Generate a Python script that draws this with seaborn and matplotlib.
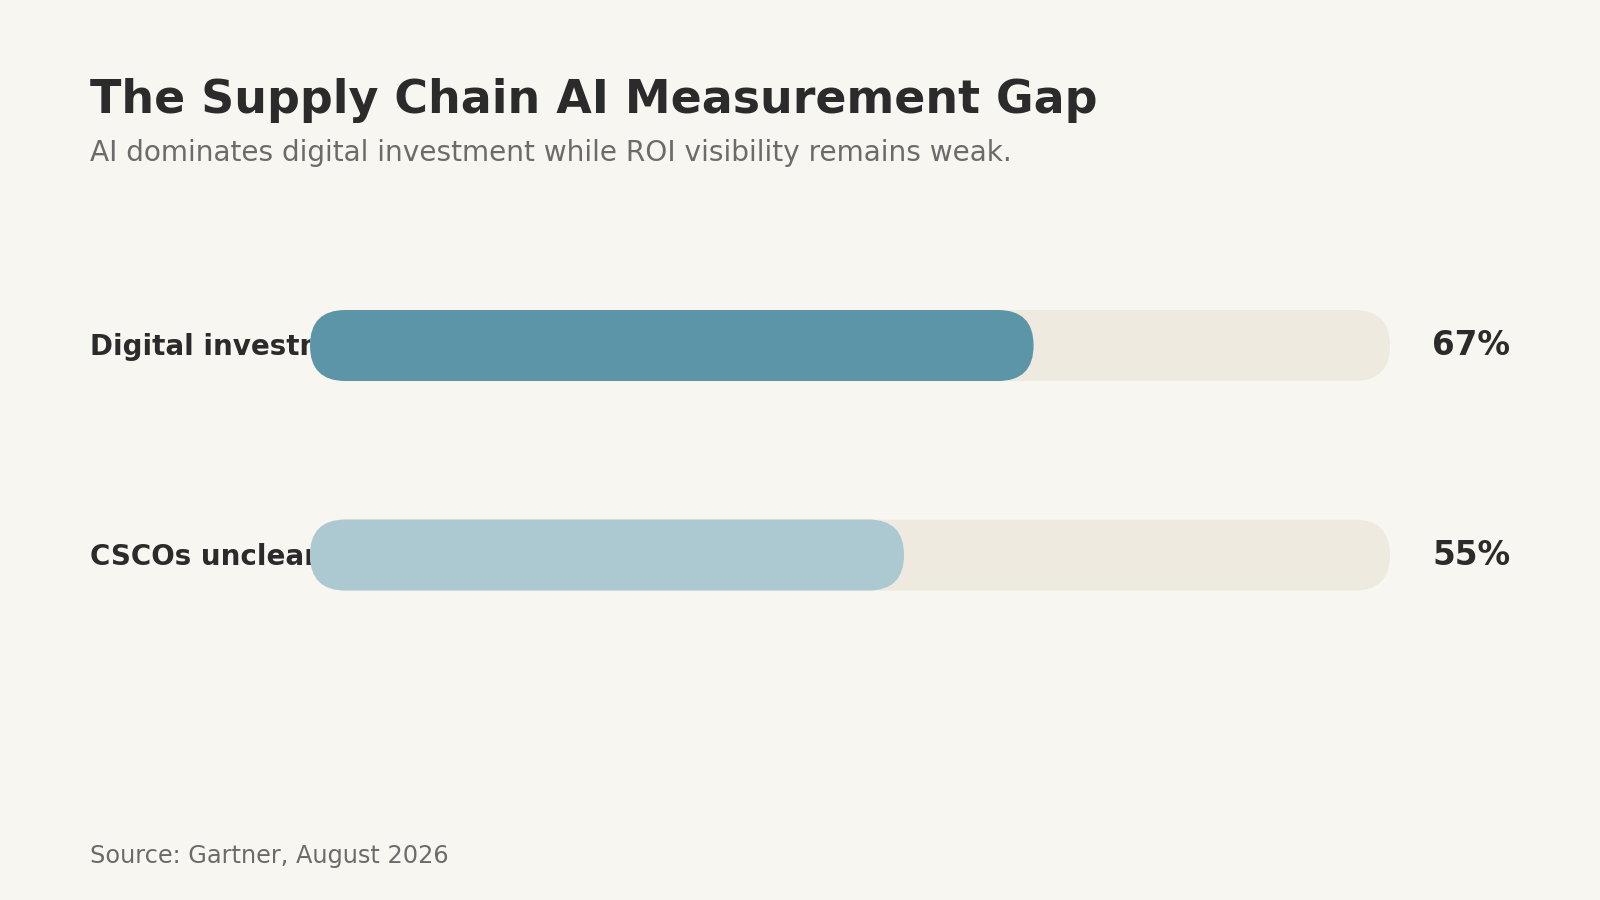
import matplotlib
matplotlib.use("Agg")
import matplotlib.pyplot as plt
import matplotlib.transforms as mtransforms
from matplotlib.patches import FancyBboxPatch
import pandas as pd
import seaborn as sns

# Chart data
labels = ["Digital investment going to AI", "CSCOs unclear on AI ROI"]
values = [67, 55]
value_labels = ["67%", "55%"]
track_max = 100
bar_colors = ["#5c95a8", "#acc9d1"]

BG = "#f8f6f0"
TRACK = "#eeeae0"
DARK = "#2b2b2b"
GREY = "#6b6b6b"

sns.set_theme(style="white")
plt.rcParams['font.family'] = ['DejaVu Sans']

fig = plt.figure(figsize=(16, 9), dpi=100, facecolor=BG)
ax = fig.add_axes([0.19375, 0.2669, 0.675, 0.4656])
ax.set_facecolor("none")

df = pd.DataFrame({"label": labels, "value": values, "track": [track_max] * len(labels)})

bar_w = 0.339
sns.barplot(data=df, x="track", y="label", color=TRACK, saturation=1,
            width=bar_w, ax=ax, orient="h")
sns.barplot(data=df, x="value", y="label", hue="label", palette=bar_colors, saturation=1,
            legend=False, width=bar_w, ax=ax, orient="h")

ax.set_xlim(0, track_max)
ax.set_ylim(len(labels) - 0.5, -0.5)
ax.axis("off")

# swap the square bars for pill shapes
p0 = ax.transData.transform((0, 0))
p1 = ax.transData.transform((1, 1))
sx = abs(p1[0] - p0[0])
sy = abs(p1[1] - p0[1])
aspect = sx / sy

rects = list(ax.patches)
for i, r in enumerate(rects):
    x0, y0, w, h = r.get_x(), r.get_y(), r.get_width(), r.get_height()
    fc = r.get_facecolor()
    r.remove()
    if w <= 0:
        continue
    rad = min(h * sy / (2 * sx), w / 2)
    pill = FancyBboxPatch((x0, y0), w, h,
                          boxstyle=f"round,pad=0,rounding_size={rad}",
                          mutation_aspect=aspect, fc=fc, ec="none",
                          zorder=1 if i < len(labels) else 2)
    ax.add_patch(pill)

# category labels sit under the bars
lab_tr = mtransforms.blended_transform_factory(fig.transFigure, ax.transData)
for i, lab in enumerate(labels):
    ax.text(0.056, i + 0.008, lab, transform=lab_tr, ha="left", va="center",
            fontsize=20, fontweight="bold", color=DARK, zorder=0.5, clip_on=False)
    ax.annotate(value_labels[i], xy=(track_max, i), xytext=(30.2, 0),
                textcoords="offset points", ha="left", va="center",
                fontsize=23.5, fontweight="bold", color=DARK, annotation_clip=False)

fig.text(0.0565, 0.874, "The Supply Chain AI Measurement Gap", ha="left", va="baseline",
         fontsize=33, fontweight="bold", color=DARK)
fig.text(0.0565, 0.8214, "AI dominates digital investment while ROI visibility remains weak.",
         ha="left", va="baseline", fontsize=20.2, color=GREY)
fig.text(0.056, 0.0408, "Source: Gartner, August 2026", ha="left", va="baseline",
         fontsize=17.25, color=GREY)

fig.savefig("out.png", dpi=100, facecolor=BG)
